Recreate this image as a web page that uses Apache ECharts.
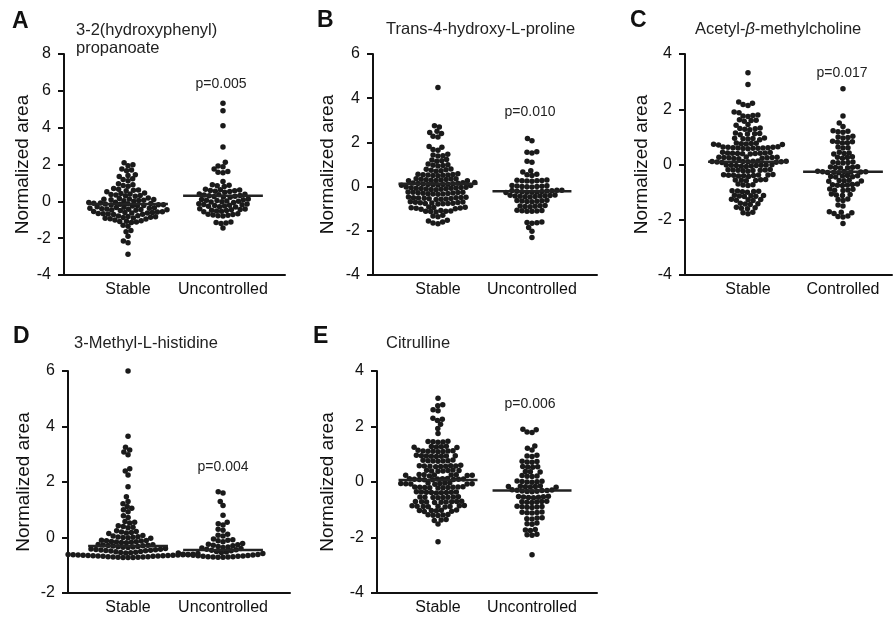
<!DOCTYPE html>
<html>
<head>
<meta charset="utf-8">
<title>Normalized area by group</title>
<script src="https://cdn.jsdelivr.net/npm/echarts@6/dist/echarts.min.js"></script>
<style>
  html, body { margin: 0; padding: 0; background: #fff; }
  #chart { width: 893px; height: 622px; }
</style>
</head>
<body>
<div id="chart"></div>
<script>
// ---------------- data ----------------
const catsA = ['Stable', 'Uncontrolled'];
const catsC = ['Stable', 'Controlled'];

// A: 3-2(hydroxyphenyl) propanoate
const aStable = [2.10, 1.98, 1.93, 1.75, 1.70, 1.66, 1.45, 1.40, 1.35, 1.22, 1.18, 1.12,
  0.95, 0.90, 0.86, 0.82, 0.70, 0.66, 0.62, 0.60, 0.57, 0.52,
  0.45, 0.42, 0.40, 0.37, 0.35, 0.32, 0.30, 0.27,
  0.18, 0.15, 0.13, 0.11, 0.10, 0.08, 0.06, 0.05, 0.03, 0.01,
  -0.05, -0.07, -0.09, -0.10, -0.12, -0.13, -0.15, -0.16, -0.18, -0.19, -0.20, -0.22, -0.23, -0.25,
  -0.30, -0.32, -0.34, -0.35, -0.37, -0.38, -0.40, -0.41, -0.43, -0.44, -0.46, -0.47, -0.49, -0.50,
  -0.55, -0.57, -0.58, -0.60, -0.61, -0.63, -0.64, -0.66, -0.67, -0.69, -0.70, -0.72,
  -0.78, -0.80, -0.82, -0.84, -0.86, -0.88, -0.90, -0.92, -0.94, -0.96,
  -1.02, -1.05, -1.08, -1.10, -1.12, -1.15, -1.30, -1.35, -1.58, -1.65, -1.90, -2.15, -2.25, -2.88];
const aUnc = [5.33, 4.92, 4.10, 2.95, 2.12, 1.92, 1.88, 1.75, 1.62, 1.58, 1.55, 1.08,
  0.90, 0.87, 0.84, 0.80, 0.66, 0.63, 0.61, 0.59, 0.57, 0.55, 0.53, 0.50,
  0.40, 0.38, 0.36, 0.34, 0.32, 0.30, 0.28, 0.26, 0.24, 0.22,
  0.12, 0.10, 0.08, 0.06, 0.04, 0.02, 0.00, -0.02, -0.04, -0.06,
  -0.13, -0.15, -0.17, -0.19, -0.21, -0.23, -0.25, -0.27, -0.29, -0.31,
  -0.40, -0.42, -0.44, -0.46, -0.48, -0.50, -0.52, -0.54, -0.56,
  -0.68, -0.70, -0.72, -0.74, -0.76, -0.78, -0.80, -1.12, -1.15, -1.18, -1.20, -1.45];
const medA = [-0.15, 0.30];

// B: Trans-4-hydroxy-L-proline
const bStable = [4.48, 2.75, 2.70, 2.50, 2.45, 2.40, 2.28, 2.24, 1.82, 1.78, 1.68, 1.64,
  1.46, 1.43, 1.40, 1.38, 1.23, 1.20, 1.17, 1.15, 1.02, 0.99, 0.97, 0.95, 0.93,
  0.80, 0.78, 0.76, 0.74, 0.72, 0.70, 0.58, 0.56, 0.55, 0.54, 0.53, 0.52, 0.51, 0.50, 0.49,
  0.36, 0.35, 0.34, 0.33, 0.32, 0.31, 0.30, 0.29, 0.28, 0.27, 0.26,
  0.18, 0.17, 0.16, 0.15, 0.14, 0.13, 0.12, 0.11, 0.10, 0.09, 0.08, 0.07, 0.06, 0.05,
  -0.02, -0.03, -0.04, -0.05, -0.06, -0.07, -0.08, -0.09, -0.10, -0.11, -0.12, -0.13, -0.14,
  -0.24, -0.25, -0.26, -0.27, -0.28, -0.29, -0.30, -0.31, -0.32, -0.33, -0.34, -0.35,
  -0.47, -0.48, -0.49, -0.50, -0.51, -0.52, -0.53, -0.54, -0.55, -0.56, -0.57, -0.58,
  -0.69, -0.70, -0.71, -0.72, -0.73, -0.74, -0.75, -0.76, -0.77, -0.78, -0.79,
  -0.92, -0.94, -0.95, -0.96, -0.97, -0.98, -1.00, -1.02, -1.08, -1.10, -1.11, -1.12, -1.13, -1.15,
  -1.30, -1.33, -1.36, -1.52, -1.56, -1.60, -1.65, -1.68];
const bUnc = [2.18, 2.08, 1.58, 1.55, 1.52, 1.15, 1.10, 0.72, 0.66, 0.56, 0.54, 0.50,
  0.30, 0.29, 0.28, 0.27, 0.26, 0.25, 0.24, 0.05, 0.04, 0.03, 0.02, 0.01, 0.00, -0.01, -0.02,
  -0.16, -0.17, -0.18, -0.19, -0.20, -0.21, -0.22, -0.23, -0.24, -0.25, -0.26, -0.27,
  -0.38, -0.39, -0.40, -0.41, -0.42, -0.43, -0.44, -0.45, -0.46, -0.47,
  -0.62, -0.63, -0.64, -0.65, -0.66, -0.67, -0.68, -0.86, -0.87, -0.88, -0.89, -0.90, -0.91,
  -1.07, -1.08, -1.09, -1.10, -1.11, -1.12, -1.60, -1.62, -1.64, -1.66, -1.85, -2.02, -2.30];
const medB = [0.13, -0.21];

// C: Acetyl-beta-methylcholine
const cStable = [3.32, 2.90, 2.26, 2.22, 2.17, 2.14, 1.90, 1.87, 1.79, 1.77, 1.76, 1.74,
  1.62, 1.60, 1.59, 1.57, 1.45, 1.42, 1.32, 1.30, 1.29, 1.28, 1.26, 1.14, 1.12, 1.11, 1.10, 1.08,
  0.96, 0.95, 0.94, 0.93, 0.92, 0.90, 0.78, 0.77, 0.76, 0.75, 0.74, 0.73, 0.72, 0.71,
  0.64, 0.63, 0.62, 0.62, 0.61, 0.61, 0.60, 0.60, 0.59, 0.59, 0.58, 0.57,
  0.44, 0.43, 0.42, 0.42, 0.41, 0.41, 0.40, 0.40, 0.39, 0.38,
  0.27, 0.26, 0.26, 0.25, 0.25, 0.24, 0.24, 0.23, 0.22, 0.21,
  0.13, 0.12, 0.12, 0.11, 0.11, 0.10, 0.10, 0.09, 0.08, 0.07,
  -0.01, -0.02, -0.02, -0.03, -0.03, -0.04, -0.04, -0.05, -0.06, -0.07,
  -0.18, -0.19, -0.20, -0.20, -0.21, -0.21, -0.22, -0.23, -0.24,
  -0.36, -0.37, -0.38, -0.38, -0.39, -0.39, -0.40, -0.41, -0.42, -0.43,
  -0.54, -0.55, -0.56, -0.57, -0.58, -0.59, -0.71, -0.73, -0.74, -0.76,
  -0.95, -0.96, -0.97, -0.98, -0.99, -1.00, -1.11, -1.12, -1.13, -1.14, -1.15, -1.16,
  -1.26, -1.27, -1.28, -1.29, -1.30, -1.40, -1.42, -1.43, -1.45,
  -1.55, -1.57, -1.58, -1.60, -1.73, -1.75, -1.78];
const cCtrl = [2.74, 1.76, 1.50, 1.38, 1.22, 1.20, 1.19, 1.17, 1.02, 1.00, 0.98, 0.96,
  0.84, 0.82, 0.81, 0.79, 0.78, 0.63, 0.61, 0.60, 0.44, 0.42, 0.40, 0.38, 0.28, 0.26, 0.25, 0.23,
  0.09, 0.08, 0.07, 0.06, 0.05, -0.08, -0.09, -0.10, -0.11, -0.12, -0.13,
  -0.24, -0.25, -0.26, -0.26, -0.27, -0.27, -0.28, -0.29, -0.30,
  -0.40, -0.41, -0.42, -0.43, -0.44, -0.45, -0.57, -0.58, -0.59, -0.60, -0.61,
  -0.71, -0.72, -0.73, -0.74, -0.75, -0.76, -0.89, -0.90, -0.92, -0.93, -0.94,
  -1.07, -1.09, -1.10, -1.12, -1.25, -1.27, -1.30, -1.47, -1.50,
  -1.71, -1.73, -1.75, -1.77, -1.86, -1.88, -1.90, -2.14];
const medC = [0.10, -0.26];

// D: 3-Methyl-L-histidine
const dStable = [6.00, 3.65, 3.25, 3.15, 3.08, 2.98, 2.48, 2.40, 2.25, 1.83, 1.47, 1.30, 1.22,
  1.12, 1.05, 1.00, 0.93, 0.78, 0.72, 0.58, 0.55, 0.52, 0.42, 0.40, 0.37, 0.35,
  0.24, 0.22, 0.20, 0.18, 0.16, 0.14, 0.07, 0.05, 0.03, 0.02, 0.01, 0.00, -0.01, -0.03,
  -0.10, -0.11, -0.12, -0.13, -0.14, -0.15, -0.16, -0.17, -0.18, -0.19,
  -0.25, -0.26, -0.27, -0.28, -0.29, -0.30, -0.31, -0.32, -0.33, -0.34, -0.35, -0.36,
  -0.40, -0.41, -0.42, -0.43, -0.44, -0.45, -0.46, -0.47, -0.48, -0.49, -0.50, -0.51,
  -0.53, -0.54, -0.55, -0.56, -0.57, -0.58, -0.59,
  -0.60, -0.60, -0.61, -0.61, -0.62, -0.62, -0.63, -0.63, -0.64, -0.64, -0.65, -0.65, -0.66, -0.66,
  -0.67, -0.67, -0.68, -0.68, -0.69, -0.69, -0.70, -0.70, -0.71, -0.71, -0.72, -0.72, -0.72];
const dUnc = [1.65, 1.60, 1.30, 1.15, 0.80, 0.55, 0.50, 0.45, 0.30, 0.26, 0.12, 0.08, 0.05,
  -0.05, -0.08, -0.10, -0.12, -0.15, -0.22, -0.24, -0.26, -0.28, -0.30, -0.32, -0.34,
  -0.36, -0.38, -0.40, -0.42, -0.44, -0.46, -0.48, -0.50, -0.52, -0.54, -0.56, -0.58,
  -0.60, -0.61, -0.62, -0.63, -0.64, -0.65, -0.66, -0.67,
  -0.68, -0.68, -0.69, -0.69, -0.70, -0.70, -0.71, -0.71];
const medD = [-0.31, -0.45];

// E: Citrulline
const eStable = [3.02, 2.78, 2.75, 2.60, 2.57, 2.30, 2.26, 2.22, 2.08, 1.93, 1.75,
  1.47, 1.46, 1.45, 1.44, 1.43, 1.29, 1.28, 1.27, 1.26, 1.25, 1.24,
  1.14, 1.13, 1.12, 1.12, 1.11, 1.11, 1.10, 1.09, 0.96, 0.95, 0.95, 0.94, 0.94, 0.93, 0.93, 0.92,
  0.79, 0.78, 0.77, 0.77, 0.76, 0.76, 0.75, 0.60, 0.59, 0.59, 0.58, 0.58, 0.57, 0.57, 0.56, 0.55,
  0.43, 0.42, 0.41, 0.41, 0.40, 0.40, 0.39, 0.27, 0.26, 0.26, 0.25, 0.25, 0.24, 0.24, 0.23, 0.22,
  0.13, 0.12, 0.12, 0.11, 0.11, 0.10, 0.10, 0.09, 0.09, 0.08, 0.08,
  -0.03, -0.04, -0.04, -0.05, -0.05, -0.06, -0.06, -0.07, -0.07, -0.08,
  -0.17, -0.18, -0.18, -0.19, -0.19, -0.20, -0.20, -0.21, -0.21, -0.22,
  -0.35, -0.36, -0.36, -0.37, -0.37, -0.38, -0.38, -0.39, -0.40,
  -0.53, -0.54, -0.54, -0.55, -0.55, -0.56, -0.56, -0.57,
  -0.69, -0.70, -0.70, -0.71, -0.71, -0.72, -0.72, -0.73, -0.74,
  -0.85, -0.86, -0.86, -0.87, -0.87, -0.88, -0.88, -0.89, -0.90,
  -1.01, -1.02, -1.03, -1.03, -1.04, -1.05, -1.06, -1.17, -1.18, -1.19, -1.20, -1.21,
  -1.35, -1.37, -1.39, -1.51, -2.15];
const eUnc = [1.90, 1.88, 1.80, 1.78, 1.30, 1.22, 1.15, 0.96, 0.94, 0.92, 0.75, 0.74, 0.72, 0.71,
  0.56, 0.55, 0.54, 0.53, 0.38, 0.37, 0.36, 0.23, 0.22, 0.21, 0.20,
  0.04, 0.03, 0.02, 0.01, 0.00, -0.01, -0.14, -0.15, -0.16, -0.16, -0.17, -0.18, -0.19,
  -0.28, -0.29, -0.30, -0.31, -0.31, -0.32, -0.33, -0.34, -0.35,
  -0.51, -0.52, -0.53, -0.54, -0.55, -0.56, -0.57, -0.69, -0.70, -0.71, -0.72, -0.73, -0.74,
  -0.87, -0.88, -0.89, -0.90, -0.91, -0.92, -1.08, -1.09, -1.10, -1.11, -1.12,
  -1.29, -1.30, -1.32, -1.33, -1.48, -1.50, -1.52, -1.71, -1.73, -1.75, -1.88, -1.90, -1.92, -2.62];
const medE = [0.07, -0.31];

const pValues = ['p=0.005', 'p=0.010', 'p=0.017', 'p=0.004', 'p=0.006'];

// ---------------- layout ----------------
const FONT = '"Liberation Sans", Arial, sans-serif';
const DOT = 5.5;      // dot diameter (px)

const panels = [
  { letter: 'A', grid: { left: 64, top: 54, width: 221, height: 221 }, x: [0.326, 2.653], y: [-4, 8], cats: catsA, groups: [aStable, aUnc], med: medA, nameGap: 32, gap: 5,
    letterPos: [12, 22], titlePos: [76, 30], pPos: [221, 84] },
  { letter: 'B', grid: { left: 373, top: 54, width: 224, height: 221 }, x: [0.309, 2.692], y: [-4, 6], cats: catsA, groups: [bStable, bUnc], med: medB, nameGap: 36, gap: 5,
    letterPos: [317, 21], titlePos: [386, 29], pPos: [530, 112] },
  { letter: 'C', grid: { left: 685, top: 54, width: 207, height: 221 }, x: [0.337, 2.516], y: [-4, 4], cats: catsC, groups: [cStable, cCtrl], med: medC, nameGap: 34, gap: 5,
    letterPos: [630, 21], titlePos: [695, 29], pPos: [842, 73] },
  { letter: 'D', grid: { left: 68, top: 371, width: 222, height: 222 }, x: [0.368, 2.705], y: [-2, 6], cats: catsA, groups: [dStable, dUnc], med: medD, nameGap: 35, gap: 5,
    letterPos: [13, 337], titlePos: [74, 343], pPos: [223, 467] },
  { letter: 'E', grid: { left: 377, top: 371, width: 220, height: 222 }, x: [0.351, 2.691], y: [-4, 4], cats: catsA, groups: [eStable, eUnc], med: medE, nameGap: 40, gap: 5,
    letterPos: [313, 337], titlePos: [386, 343], pPos: [530, 404] }
];
const titles = [
  ['3-2(hydroxyphenyl)', 'propanoate'],
  ['Trans-4-hydroxy-L-proline'],
  ['Acetyl-{it|β}-methylcholine'],
  ['3-Methyl-L-histidine'],
  ['Citrulline']
];

// simple beeswarm: each point goes to the free x position nearest the centre
function swarm(vals, pxY, gap) {
  const order = vals.map((v, i) => i).sort((a, b) => vals[a] - vals[b]);
  const placed = [];
  const offs = new Array(vals.length);
  order.forEach(i => {
    const y = vals[i] * pxY;
    const ivs = [];
    placed.forEach(p => {
      const dy = Math.abs(p.y - y);
      if (dy < gap) {
        const dx = Math.sqrt(gap * gap - dy * dy);
        ivs.push([p.x - dx, p.x + dx]);
      }
    });
    const cands = [0];
    ivs.forEach(iv => cands.push(iv[0], iv[1]));
    cands.sort((a, b) => Math.abs(a) - Math.abs(b));
    let x = 0;
    for (const c of cands) {
      if (ivs.every(iv => c <= iv[0] + 1e-6 || c >= iv[1] - 1e-6)) { x = c; break; }
    }
    placed.push({ x, y });
    offs[i] = x;
  });
  return offs;
}

const grids = [], xAxes = [], yAxes = [], series = [], graphic = [];
panels.forEach((p, k) => {
  grids.push(Object.assign({ containLabel: false }, p.grid));
  const pxY = p.grid.height / (p.y[1] - p.y[0]);
  const pxX = p.grid.width / (p.x[1] - p.x[0]);
  xAxes.push({
    type: 'value', gridIndex: k, min: p.x[0], max: p.x[1],
    axisLine: { show: true, onZero: false, lineStyle: { color: '#111', width: 2 } },
    axisTick: { show: false },
    splitLine: { show: false },
    axisLabel: {
      customValues: [1, 2], margin: 7, color: '#111', fontSize: 16, fontFamily: FONT,
      formatter: v => p.cats[Math.round(v) - 1] || ''
    }
  });
  yAxes.push({
    type: 'value', gridIndex: k, min: p.y[0], max: p.y[1], interval: 2,
    name: 'Normalized area', nameLocation: 'middle', nameGap: p.nameGap,
    nameTextStyle: { fontSize: 19, color: '#111', fontFamily: FONT },
    axisLine: { show: true, onZero: false, lineStyle: { color: '#111', width: 2 } },
    axisTick: { show: true, length: 6, lineStyle: { color: '#111', width: 2 } },
    splitLine: { show: false },
    axisLabel: { margin: 13, color: '#111', fontSize: 16, fontFamily: FONT }
  });
  p.groups.forEach((vals, g) => {
    const offs = swarm(vals, pxY, p.gap);
    series.push({
      type: 'scatter', xAxisIndex: k, yAxisIndex: k, symbolSize: DOT, silent: true,
      itemStyle: { color: '#1a1a1a', opacity: 1 },
      data: vals.map((v, i) => [g + 1 + offs[i] / pxX, v])
    });
    series.push({
      type: 'line', xAxisIndex: k, yAxisIndex: k, symbol: 'none', silent: true, z: 5,
      lineStyle: { color: '#222', width: 2.5 },
      data: [[g + 1 - 0.42, p.med[g]], [g + 1 + 0.42, p.med[g]]]
    });
  });
  graphic.push({
    type: 'text', x: p.letterPos[0], y: p.letterPos[1],
    style: { text: p.letter, font: 'bold 23px ' + FONT, fill: '#111', textVerticalAlign: 'middle' }
  });
  titles[k].forEach((t, j) => {
    graphic.push({
      type: 'text', x: p.titlePos[0], y: p.titlePos[1] + j * 18,
      style: {
        text: t, font: '16.5px ' + FONT, fill: '#222', textVerticalAlign: 'middle',
        rich: { it: { fontStyle: 'italic', fontSize: 16.5, fontFamily: FONT, fill: '#222' } }
      }
    });
  });
  graphic.push({
    type: 'text', x: p.pPos[0], y: p.pPos[1],
    style: { text: pValues[k], font: '14px ' + FONT, fill: '#222', textAlign: 'center', textVerticalAlign: 'middle' }
  });
});

const chart = echarts.init(document.getElementById('chart'));
chart.setOption({
  animation: false,
  backgroundColor: '#fff',
  grid: grids,
  xAxis: xAxes,
  yAxis: yAxes,
  series: series,
  graphic: graphic
});
</script>
</body>
</html>
